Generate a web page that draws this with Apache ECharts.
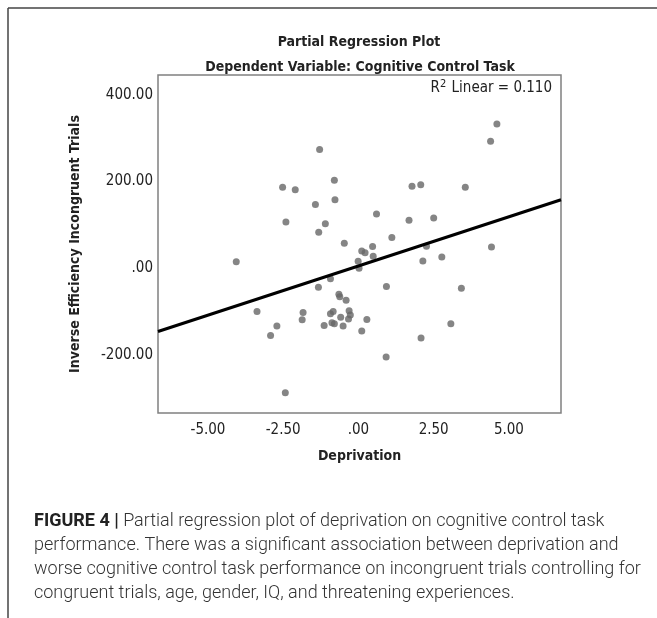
<!doctype html>
<html lang="en">
<head>
    <meta charset="UTF-8">
    <title>Partial Regression Plot</title>
    <script src="https://cdn.jsdelivr.net/npm/echarts@6/dist/echarts.min.js"></script>
    <style>
        html, body { margin: 0; padding: 0; background: #fff; }
    </style>
</head>
<body>
<div id="main" style="width:657px; height:618px;"></div>

<script>
    // 偏回归散点 (Deprivation vs Inverse Efficiency Incongruent Trials)
    var depX = [-4.06, -3.37, -2.92, -2.71, -2.52, -2.41, -2.43, -2.10, -1.87, -1.84,
        -1.43, -1.32, -1.33, -1.29, -1.10, -1.14, -0.93, -0.93, -0.84, -0.88,
        -0.80, -0.80, -0.78, -0.65, -0.62, -0.59, -0.51, -0.47, -0.41, -0.31,
        -0.27, -0.33, -0.01, 0.02, 0.11, 0.22, 0.11, 0.28, 0.47, 0.49,
        0.60, 0.93, 0.92, 1.11, 1.68, 1.78, 2.07, 2.14, 2.26, 2.08,
        2.50, 2.77, 3.07, 3.42, 3.55, 4.39, 4.60, 4.42];
    var ineffY = [15, -100, -155, -133, 187, 107, -287, 181, -119, -102,
        147, 83, -44, 274, 103, -132, -24, -105, -100, -126,
        -128, 203, 158, -60, -66, -113, -133, 58, -74, -98,
        -108, -117, 16, 0, 40, 36, -145, -118, 50, 28,
        125, -42, -205, 71, 111, 189, 193, 17, 51, -161,
        116, 26, -128, -46, 187, 293, 333, 49];

    // 拟合直线两端
    var fitX = [-6.66, 6.73];
    var fitY = [-146, 158];

    var xTicks = [-5, -2.5, 0, 2.5, 5];
    var yTicks = [-200, 0, 200, 400];

    var caption = [
        '{b|FIGURE 4 |} Partial regression plot of deprivation on cognitive control task',
        'performance. There was a significant association between deprivation and',
        'worse cognitive control task performance on incongruent trials controlling for',
        'congruent trials, age, gender, IQ, and threatening experiences.'
    ];

    var plotFont = '"DejaVu Sans Condensed", "Liberation Sans Narrow", sans-serif';
    var capFont = 'Roboto, "Liberation Sans", sans-serif';

    function fmt(v) {
        if (v === 0) return '.00';
        return v.toFixed(2);
    }

    var points = depX.map(function (x, i) { return [x, ineffY[i]]; });
    var fitLine = fitX.map(function (x, i) { return [x, fitY[i]]; });

    var myChart = echarts.init(document.getElementById('main'));
    myChart.setOption({
        animation: false,
        title: [{
            text: 'Partial Regression Plot',
            left: 354, top: 30, textAlign: 'center',
            textStyle: {fontFamily: plotFont, fontWeight: 'bold', fontSize: 14, color: '#222'}
        }, {
            text: 'Dependent Variable: Cognitive Control Task',
            left: 355, top: 55, textAlign: 'center',
            textStyle: {fontFamily: plotFont, fontWeight: 'bold', fontSize: 14, color: '#222'}
        }],
        grid: {
            left: 158, right: 96, top: 75, bottom: 205,
            show: true, borderColor: '#808080', borderWidth: 1.5, backgroundColor: '#fff'
        },
        xAxis: {
            type: 'value',
            min: -6.66, max: 6.73,
            name: 'Deprivation',
            nameLocation: 'middle',
            nameGap: 36,
            nameTextStyle: {fontFamily: plotFont, fontWeight: 'bold', fontSize: 14, color: '#222'},
            axisLine: {show: false},
            axisTick: {show: false},
            splitLine: {show: false},
            axisLabel: {
                customValues: xTicks,
                formatter: fmt,
                margin: 10,
                fontFamily: plotFont, fontSize: 15, color: '#222'
            }
        },
        yAxis: {
            type: 'value',
            min: -334, max: 446,
            name: 'Inverse Efficiency Incongruent Trials',
            nameLocation: 'middle',
            nameGap: 76,
            nameTextStyle: {fontFamily: plotFont, fontWeight: 'bold', fontSize: 14, color: '#222'},
            axisLine: {show: false},
            axisTick: {show: false},
            splitLine: {show: false},
            axisLabel: {
                customValues: yTicks,
                formatter: fmt,
                margin: 5,
                fontFamily: plotFont, fontSize: 15, color: '#222'
            }
        },
        series: [{
            name: 'points',
            type: 'scatter',
            symbolSize: 7,
            itemStyle: {color: '#666'},
            data: points
        }, {
            name: 'fit',
            type: 'line',
            symbol: 'none',
            lineStyle: {color: '#000', width: 3},
            data: fitLine,
            z: 3
        }],
        graphic: [
            // 外框
            {type: 'line', shape: {x1: 8, y1: 8, x2: 657, y2: 8}, style: {stroke: '#444', lineWidth: 1.5}},
            {type: 'line', shape: {x1: 8, y1: 8, x2: 8, y2: 618}, style: {stroke: '#444', lineWidth: 1.5}},
            {
                type: 'text', right: 105, top: 79,
                style: {
                    text: 'R{sup|2} Linear = 0.110',
                    font: '15px ' + plotFont, fill: '#222',
                    rich: {sup: {fontSize: 11, verticalAlign: 'top', padding: [0, 1, 8, 0], fontFamily: plotFont}}
                }
            },
            {
                type: 'text', left: 34, top: 509,
                style: {
                    text: caption.join('\n'),
                    fontFamily: capFont,
                    fontWeight: 300,
                    fontSize: 18,
                    lineHeight: 24,
                    fill: '#333',
                    rich: {b: {fontWeight: 'bold', fontSize: 18, fill: '#222', fontFamily: capFont}}
                }
            }
        ]
    });
</script>
</body>
</html>
